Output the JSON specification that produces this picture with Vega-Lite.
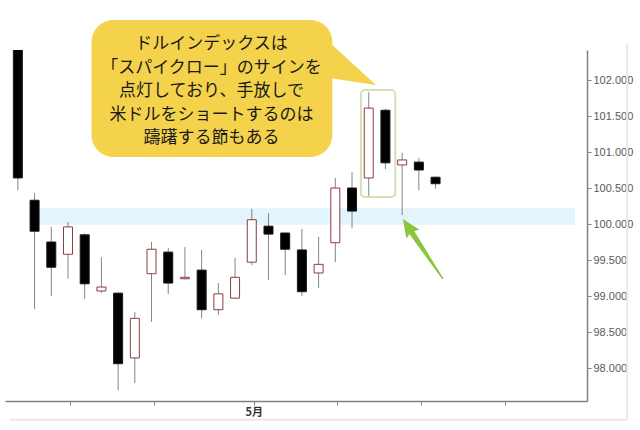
{
  "$schema": "https://vega.github.io/schema/vega-lite/v6.json",
  "width": 582,
  "height": 351,
  "autosize": {"type": "none"},
  "padding": {"left": 5, "top": 50, "right": 53, "bottom": 29},
  "background": "white",
  "config": {
    "view": {"stroke": null},
    "font": "Liberation Sans"
  },
  "datasets": {
    "candles": [
      {"i": 1, "open": 103.0, "high": 103.2, "low": 100.47, "close": 100.64},
      {"i": 2, "open": 100.33, "high": 100.43, "low": 98.82, "close": 99.9},
      {"i": 3, "open": 99.75, "high": 99.96, "low": 99.0, "close": 99.4},
      {"i": 4, "open": 99.58, "high": 100.03, "low": 99.24, "close": 99.96},
      {"i": 5, "open": 99.85, "high": 99.87, "low": 98.96, "close": 99.17},
      {"i": 6, "open": 99.07, "high": 99.54, "low": 99.04, "close": 99.125},
      {"i": 7, "open": 99.04, "high": 99.05, "low": 97.69, "close": 98.06},
      {"i": 8, "open": 98.14, "high": 98.78, "low": 97.79, "close": 98.69},
      {"i": 9, "open": 99.31, "high": 99.75, "low": 98.64, "close": 99.65},
      {"i": 10, "open": 99.61, "high": 99.67, "low": 99.03, "close": 99.18},
      {"i": 11, "open": 99.24, "high": 99.68, "low": 99.23, "close": 99.26},
      {"i": 12, "open": 99.36, "high": 99.64, "low": 98.69, "close": 98.81},
      {"i": 13, "open": 98.81, "high": 99.18, "low": 98.74, "close": 99.03},
      {"i": 14, "open": 98.97, "high": 99.53, "low": 98.96, "close": 99.26},
      {"i": 15, "open": 99.47, "high": 100.21, "low": 99.43, "close": 100.06},
      {"i": 16, "open": 99.97, "high": 100.15, "low": 99.22, "close": 99.86},
      {"i": 17, "open": 99.875, "high": 99.88, "low": 99.29, "close": 99.65},
      {"i": 18, "open": 99.64, "high": 99.93, "low": 99.0, "close": 99.06},
      {"i": 19, "open": 99.32, "high": 99.82, "low": 99.11, "close": 99.44},
      {"i": 20, "open": 99.74, "high": 100.64, "low": 99.47, "close": 100.5},
      {"i": 21, "open": 100.5, "high": 100.72, "low": 99.94, "close": 100.18},
      {"i": 22, "open": 100.64, "high": 101.83, "low": 100.375, "close": 101.61},
      {"i": 23, "open": 101.58, "high": 101.6, "low": 100.76, "close": 100.85},
      {"i": 24, "open": 100.82, "high": 100.99, "low": 100.125, "close": 100.89},
      {"i": 25, "open": 100.86, "high": 100.92, "low": 100.47, "close": 100.75},
      {"i": 26, "open": 100.65, "high": 100.66, "low": 100.49, "close": 100.56}
    ]
  },
  "layer": [
    {
      "data": {"values": [{}]},
      "mark": {"type": "rect", "color": "#e2f4fd"},
      "encoding": {
        "x": {"datum": 2, "type": "quantitative", "scale": {"domain": [0.529, 34.765], "nice": false, "zero": false}},
        "x2": {"datum": 34.35},
        "y": {"datum": 99.99, "type": "quantitative", "scale": {"domain": [97.542, 102.417], "nice": false, "zero": false}},
        "y2": {"datum": 100.22}
      }
    },
    {
      "data": {"values": [{}]},
      "mark": {"type": "rule", "color": "#e8e8e8", "strokeWidth": 2, "clip": false},
      "encoding": {
        "x": {"datum": 37.47, "type": "quantitative"},
        "y": {"datum": 102.5, "type": "quantitative"},
        "y2": {"datum": 97.28}
      }
    },
    {
      "data": {"values": [{}]},
      "mark": {"type": "rule", "color": "#e8e8e8", "strokeWidth": 2, "clip": false},
      "encoding": {
        "x": {"datum": 0.529, "type": "quantitative"},
        "x2": {"datum": 37.47},
        "y": {"datum": 97.28, "type": "quantitative"}
      }
    },
    {
      "data": {"name": "candles"},
      "mark": {"type": "rule", "color": "#858585", "strokeWidth": 1, "clip": true},
      "encoding": {
        "x": {
          "field": "i", "type": "quantitative",
          "scale": {"domain": [0.529, 34.765], "nice": false, "zero": false},
          "axis": {
            "orient": "bottom", "title": null, "grid": false,
            "values": [4.12, 9.12, 15.12, 20.12, 25.12, 30.15],
            "labelExpr": "datum.value == 15.12 ? '5月' : ''",
            "domainColor": "#808080", "domainWidth": 1.5,
            "tickColor": "#808080", "tickSize": 4, "tickWidth": 1,
            "labelColor": "#333333", "labelFontSize": 11, "labelFontWeight": "bold",
            "labelFont": "Noto Sans CJK JP", "labelPadding": 1
          }
        },
        "y": {
          "field": "low", "type": "quantitative",
          "scale": {"domain": [97.542, 102.417], "nice": false, "zero": false},
          "axis": {
            "orient": "right", "title": null, "grid": false,
            "values": [98, 98.5, 99, 99.5, 100, 100.5, 101, 101.5, 102],
            "format": ".3f",
            "domainColor": "#808080", "domainWidth": 1.5,
            "tickColor": "#808080", "tickSize": 4, "tickWidth": 1,
            "labelColor": "#595959", "labelFontSize": 11, "labelPadding": 2
          }
        },
        "y2": {"field": "high"}
      }
    },
    {
      "data": {"name": "candles"},
      "mark": {"type": "bar", "size": 9, "strokeWidth": 1, "clip": true},
      "encoding": {
        "x": {"field": "i", "type": "quantitative"},
        "y": {"field": "open", "type": "quantitative"},
        "y2": {"field": "close"},
        "fill": {"condition": {"test": "datum.close > datum.open", "value": "#ffffff"}, "value": "#000000"},
        "stroke": {"condition": {"test": "datum.close > datum.open", "value": "#8e3b3b"}, "value": "#1a1a1a"}
      }
    },
    {
      "data": {"values": [{}]},
      "mark": {"type": "rect", "fill": "transparent", "stroke": "#d3e2b4", "strokeWidth": 2, "cornerRadius": 4},
      "encoding": {
        "x": {"datum": 21.53, "type": "quantitative"},
        "x2": {"datum": 23.59},
        "y": {"datum": 100.375, "type": "quantitative"},
        "y2": {"datum": 101.86}
      }
    },
    {
      "data": {"values": [{}]},
      "mark": {"type": "rect", "color": "#f5d24b", "cornerRadius": 22, "clip": false},
      "encoding": {
        "x": {"datum": 5.41, "type": "quantitative"},
        "x2": {"datum": 19.82},
        "y": {"datum": 100.93, "type": "quantitative"},
        "y2": {"datum": 102.833}
      }
    },
    {
      "data": {"values": [{}]},
      "mark": {"type": "point", "filled": true, "opacity": 1, "color": "#f5d24b", "strokeWidth": 0, "clip": false,
        "shape": "M-1,-0.875 L0.958,0.917 L-1,0.625 Z", "size": 2304},
      "encoding": {
        "x": {"datum": 21.06, "type": "quantitative"},
        "y": {"datum": 102.236, "type": "quantitative"}
      }
    },
    {
      "data": {"values": [{"lines": ["ドルインデックスは", "「スパイクロー」のサインを", "点灯しており、手放しで", "米ドルをショートするのは", "躊躇する節もある"]}]},
      "mark": {"type": "text", "font": "Noto Sans CJK JP", "fontSize": 17, "color": "#1a1a1a", "align": "center", "baseline": "middle", "lineHeight": 23.5, "clip": false},
      "encoding": {
        "x": {"datum": 12.59, "type": "quantitative"},
        "y": {"datum": 102.5, "type": "quantitative"},
        "text": {"field": "lines"}
      }
    },
    {
      "data": {"values": [{}]},
      "mark": {"type": "point", "filled": true, "opacity": 1, "color": "#8cc63f", "strokeWidth": 0, "clip": false,
        "shape": "M0,-1 L0.22,-0.5 L0.08,-0.55 L0.02,1 L-0.02,1 L-0.08,-0.55 L-0.22,-0.5 Z", "size": 5184, "angle": 326.3},
      "encoding": {
        "x": {"datum": 25.24, "type": "quantitative"},
        "y": {"datum": 99.653, "type": "quantitative"}
      }
    }
  ]
}
